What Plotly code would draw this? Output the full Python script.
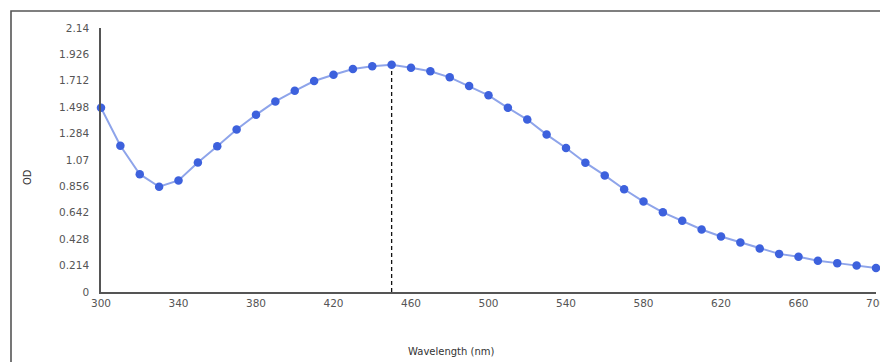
import plotly.graph_objects as go

wavelength = [300, 310, 320, 330, 340, 350, 360, 370, 380, 390,
              400, 410, 420, 430, 440, 450, 460, 470, 480, 490,
              500, 510, 520, 530, 540, 550, 560, 570, 580, 590,
              600, 610, 620, 630, 640, 650, 660, 670, 680, 690, 700]
od = [1.493, 1.186, 0.955, 0.853, 0.904, 1.050, 1.181, 1.317, 1.436, 1.545,
      1.631, 1.710, 1.761, 1.808, 1.830, 1.843, 1.818, 1.789, 1.740, 1.669,
      1.594, 1.493, 1.398, 1.276, 1.167, 1.048, 0.945, 0.833, 0.733, 0.646,
      0.578, 0.507, 0.450, 0.401, 0.353, 0.309, 0.285, 0.253, 0.234, 0.214, 0.195]

y_tickvals = [0, 0.214, 0.428, 0.642, 0.856, 1.07, 1.284, 1.498, 1.712, 1.926, 2.14]
y_ticktext = ["0", "0.214", "0.428", "0.642", "0.856", "1.07", "1.284", "1.498", "1.712", "1.926", "2.14"]
x_tickvals = [300, 340, 380, 420, 460, 500, 540, 580, 620, 660, 700]

peak_i = max(range(len(od)), key=lambda i: od[i])
peak_x, peak_y = wavelength[peak_i], od[peak_i]

W, H = 880, 362
L, R, T, B = 101, 4, 28, 70
pw, ph = W - L - R, H - T - B

def px_x(px):
    return (px - L) / pw

def px_y(py):
    return (H - B - py) / ph

font = "DejaVu Sans, Verdana, sans-serif"

fig = go.Figure()
fig.add_trace(go.Scatter(
    x=[peak_x, peak_x], y=[0, peak_y], mode="lines",
    line=dict(color="#111111", width=1.3, dash="4px,3px"),
    hoverinfo="skip", showlegend=False,
))
fig.add_trace(go.Scatter(
    x=wavelength, y=od, mode="lines+markers",
    line=dict(color="#8ea4ea", width=2),
    marker=dict(color="#3d61dd", size=8.5, line=dict(width=0)),
    cliponaxis=False, showlegend=False,
))

fig.add_shape(type="path", xref="paper", yref="paper",
              path=f"M {px_x(11)} {px_y(400)} L {px_x(11)} {px_y(11)} L {px_x(900)} {px_y(11)}",
              line=dict(color="#555555", width=1.6), layer="above")

fig.add_annotation(text="OD", xref="paper", yref="paper", x=px_x(27), y=px_y(177),
                   showarrow=False, textangle=-90, font=dict(family=font, size=10, color="#333333"),
                   xanchor="center", yanchor="middle")
fig.add_annotation(text="Wavelength (nm)", xref="paper", yref="paper", x=px_x(451), y=px_y(351),
                   showarrow=False, font=dict(family=font, size=10, color="#333333"),
                   xanchor="center", yanchor="middle")

fig.update_layout(
    width=W, height=H,
    margin=dict(l=L, r=R, t=T, b=B, pad=0, autoexpand=False),
    paper_bgcolor="white", plot_bgcolor="white",
    font=dict(family=font, size=10, color="#555555"),
    xaxis=dict(range=[300, 700], tickvals=x_tickvals, showgrid=False, zeroline=False,
               showline=True, linecolor="#555555", linewidth=1.5, ticks="",
               ticklabeloverflow="allow", automargin=False, ticklabelstandoff=1,
               tickfont=dict(family=font, size=10.5, color="#555555")),
    yaxis=dict(range=[0, 2.14], tickvals=y_tickvals, ticktext=y_ticktext, showgrid=False,
               zeroline=False, showline=True, linecolor="#555555", linewidth=1.5, ticks="",
               ticklabeloverflow="allow", automargin=False, ticklabelstandoff=8,
               tickfont=dict(family=font, size=10.5, color="#555555")),
)

fig.write_html("out.html", config={"displayModeBar": False},
               post_script="document.body.style.margin='0';document.body.style.overflow='hidden';")
